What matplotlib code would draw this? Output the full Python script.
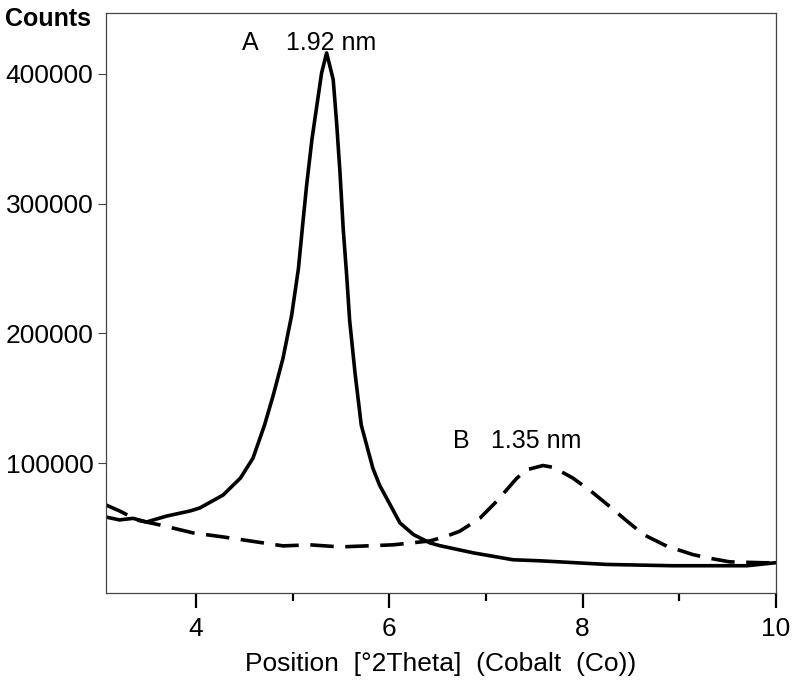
import matplotlib
matplotlib.use("Agg")
import matplotlib.pyplot as plt
from matplotlib.ticker import MultipleLocator

plt.rcParams["font.family"] = ["Liberation Sans", "DejaVu Sans"]

# sample A (solid)
a_theta = [3.07, 3.21, 3.35, 3.49, 3.63, 3.70, 3.94, 4.04, 4.28, 4.46, 4.59,
           4.71, 4.80, 4.90, 4.99, 5.06, 5.11, 5.145, 5.20, 5.25, 5.30, 5.352,
           5.42, 5.455, 5.49, 5.524, 5.56, 5.59, 5.645, 5.71, 5.83, 5.90, 5.98,
           6.11, 6.25, 6.42, 6.52, 6.87, 7.28, 7.56, 8.25, 8.93, 9.70, 9.99]
a_counts = [58500, 56300, 57500, 54700, 57800, 59300, 63200, 65500, 75400,
            88500, 103800, 129400, 152400, 180600, 213800, 249700, 288000,
            314000, 349400, 375000, 400600, 416000, 395500, 362500, 324100,
            280000, 244000, 210000, 170000, 129400, 96200, 83000, 72000,
            54000, 45000, 38600, 36500, 30900, 25600, 24800, 22000, 21000,
            21000, 23300]

# sample B (dashed)
b_theta = [3.07, 3.21, 3.40, 3.63, 3.97, 4.28, 4.56, 4.90, 5.18, 5.49, 5.77,
           6.04, 6.42, 6.59, 6.73, 6.94, 7.11, 7.32, 7.42, 7.59, 7.70, 7.90,
           8.11, 8.32, 8.46, 8.63, 8.87, 9.14, 9.29, 9.52, 9.87, 9.99]
b_counts = [67800, 63200, 56000, 52400, 46300, 43200, 40100, 36300, 37100,
            35500, 36300, 37100, 40100, 43700, 47600, 57800, 70600, 88500,
            94900, 98200, 96700, 88500, 77000, 64200, 55300, 45000, 36100,
            29600, 27100, 24000, 23300, 23300]

labels = [("A", 4.56, 1.92, 5.40, 424000), ("B", 6.75, 1.35, 7.52, 117000)]

fig = plt.figure(figsize=(8, 6.82), dpi=100)
ax = fig.add_axes([0.1325, 0.1305, 0.8375, 0.8505])

ax.plot(a_theta, a_counts, color="black", lw=2.6, solid_joinstyle="round")
ax.plot(b_theta, b_counts, color="black", lw=2.6, linestyle=(0, (6.5, 3.2)))

ax.set_xlim(3.07, 10)
ax.set_ylim(0, 446800)
ax.set_xticks([4, 6, 8, 10])
ax.xaxis.set_minor_locator(MultipleLocator(1))
ax.set_yticks([100000, 200000, 300000, 400000])

ax.tick_params(axis="x", which="major", direction="out", length=11, width=1.6,
               pad=6, labelsize=19)
ax.tick_params(axis="x", which="minor", direction="out", length=6, width=1.6)
ax.tick_params(axis="y", direction="out", length=6, width=0.8, color="#444444",
               pad=3, labelsize=19)
for spine in ax.spines.values():
    spine.set_color("#444444")
    spine.set_linewidth(0.9)

ax.set_xlabel("Position  [°2Theta]  (Cobalt  (Co))", fontsize=19, labelpad=8)
fig.text(0.006, 0.99, "Counts", fontsize=18, fontweight="bold", va="top", ha="left")

for letter, lx, d, dx, y in labels:
    ax.text(lx, y, letter, fontsize=18, ha="center", va="center")
    ax.text(dx, y, f"{d:.2f} nm", fontsize=18, ha="center", va="center")

fig.savefig("out.png", dpi=100)
